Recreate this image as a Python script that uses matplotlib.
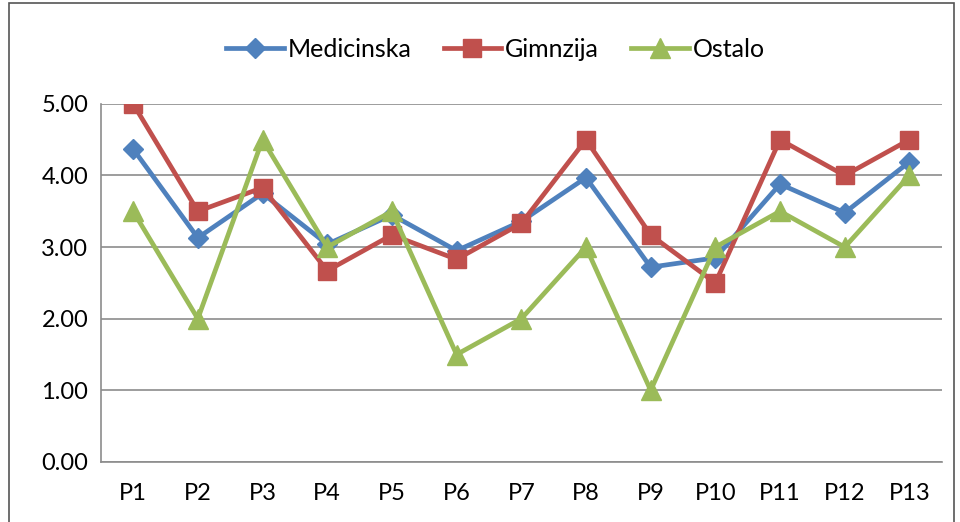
import matplotlib.pyplot as plt
from matplotlib.patches import Rectangle

categories = ["P1", "P2", "P3", "P4", "P5", "P6", "P7", "P8", "P9", "P10", "P11", "P12", "P13"]
medicinska = [4.37, 3.13, 3.75, 3.04, 3.45, 2.95, 3.36, 3.97, 2.72, 2.85, 3.88, 3.48, 4.19]
gimnzija = [5.0, 3.5, 3.83, 2.67, 3.17, 2.83, 3.33, 4.5, 3.17, 2.5, 4.5, 4.0, 4.5]
ostalo = [3.5, 2.0, 4.5, 3.0, 3.5, 1.5, 2.0, 3.0, 1.0, 3.0, 3.5, 3.0, 4.0]
yticks = [0, 1, 2, 3, 4, 5]

plt.rcParams['font.family'] = ['Lato', 'DejaVu Sans']

fig = plt.figure(figsize=(9.6, 5.22), dpi=100)
ax = fig.add_axes([0.105, 0.115, 0.876, 0.686])

x = range(len(categories))
ax.plot(x, medicinska, color='#4F81BD', lw=3.4, marker='D', ms=10, label='Medicinska')
ax.plot(x, gimnzija, color='#C0504D', lw=3.4, marker='s', ms=12.5, label='Gimnzija')
ax.plot(x, ostalo, color='#9BBB59', lw=3.4, marker='^', ms=14, label='Ostalo')

ax.set_xlim(-0.5, len(categories) - 0.5)
ax.set_ylim(0, 5)
ax.set_yticks(yticks)
ax.set_yticklabels([f"{v:.2f}" for v in yticks], fontsize=17)
ax.set_xticks(list(x))
ax.set_xticklabels(categories, fontsize=17)
ax.tick_params(axis='y', length=0, pad=9)
ax.tick_params(axis='x', length=0, pad=15)
ax.grid(axis='y', color='#8c8c8c', lw=1.2)
ax.set_axisbelow(True)
for s in ['top', 'right']:
    ax.spines[s].set_visible(False)
ax.spines['left'].set_color('#8c8c8c')
ax.spines['bottom'].set_color('#8c8c8c')
ax.spines['left'].set_linewidth(1.2)
ax.spines['bottom'].set_linewidth(1.2)

ax.legend(loc='center', bbox_to_anchor=(0.516, 0.905), bbox_transform=fig.transFigure,
          ncol=3, frameon=False, fontsize=18, handlelength=2.3, handletextpad=0.15,
          columnspacing=1.3, markerscale=1.0)

# outer chart border
fig.patches.append(Rectangle((0.009, -0.01), 0.985, 1.005, transform=fig.transFigure,
                             fill=False, edgecolor='#555555', lw=1.2))

fig.savefig('out.png', dpi=100)
